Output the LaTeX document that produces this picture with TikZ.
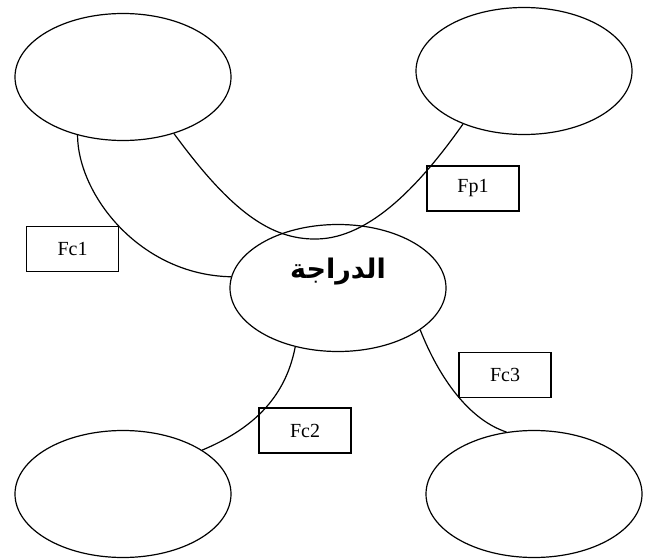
\documentclass[tikz,border=0pt]{standalone}
\usepackage{fontspec}
\setmainfont{Liberation Serif}
\newfontfamily\arabicfont[Script=Arabic]{DejaVu Sans}
\TeXXeTstate=1
\usetikzlibrary{shapes.geometric}
\begin{document}
\begin{tikzpicture}[x=1pt,y=-1pt,
  oval/.style={draw,ellipse,inner sep=0pt,line width=1.2pt,minimum width=216pt,minimum height=127pt},
  lbl/.style={draw,rectangle,minimum width=92pt,minimum height=45pt,inner sep=0pt,line width=1.2pt,font=\fontsize{20}{22}\selectfont},
  link/.style={line width=1.2pt}]
\useasboundingbox (0,0) rectangle (650,559);
\node[oval] (tl) at (123,77) {};
\node[oval] (tr) at (524,71) {};
\node[oval] (c) at (338,288) {};
\node[oval] (bl) at (123,494) {};
\node[oval] (br) at (534,494) {};
\node[font=\arabicfont\bfseries\fontsize{27}{29}\selectfont] (t) at (338,272) {\beginR الدراجة\endR};
\node[lbl] (fc1) at (72.5,249) {Fc1};
\node[lbl] (fp1) at (473,188.5) {Fp1};
\node[lbl] (fc2) at (305,430.5) {Fc2};
\node[lbl] (fc3) at (505,375) {Fc3};
\coordinate (ubot) at (317,239);
\draw[link] (tl.232) .. controls (78,195) and (140,275) .. (c.174);
\draw[link] (tl.312) .. controls (230,210) and (270,240) .. (ubot) .. controls (370,238) and (420,185) .. (tr.221);
\draw[link] (c.234) .. controls (285,400) and (250,430) .. (bl.29);
\draw[link] (c.333) .. controls (440,380) and (470,420) .. (br.114);
\end{tikzpicture}
\end{document}
